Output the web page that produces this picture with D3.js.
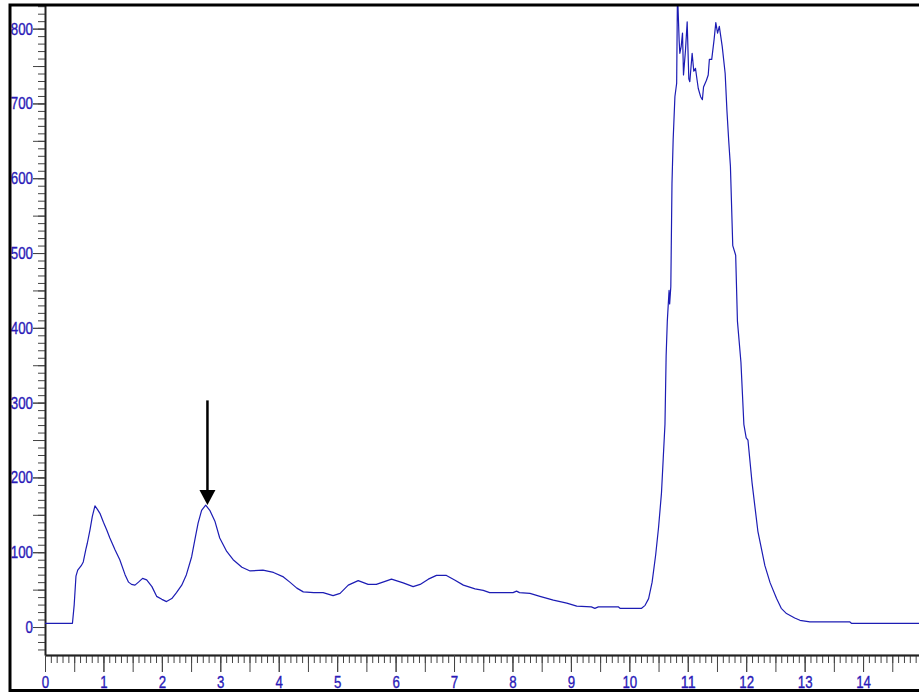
<!DOCTYPE html>
<html>
<head>
<meta charset="utf-8">
<script src="https://cdn.jsdelivr.net/npm/d3@7"></script>
<style>
  html, body { margin: 0; padding: 0; background: #fff; }
  svg { display: block; }
</style>
</head>
<body>
<div id="chart"></div>
<script>
// retention time (min)
const time = [
  0, 0.47, 0.50, 0.53, 0.56, 0.62, 0.655, 0.70, 0.724, 0.77, 0.81, 0.855, 0.90, 0.94, 1.00,
  1.055, 1.11, 1.20, 1.28, 1.37, 1.43, 1.48, 1.54, 1.60, 1.67, 1.74, 1.83, 1.91, 2.00, 2.08,
  2.17, 2.25, 2.34, 2.42, 2.51, 2.57, 2.62, 2.68, 2.75, 2.82, 2.91, 2.99, 3.11, 3.22, 3.37,
  3.51, 3.73, 3.91, 4.08, 4.19, 4.31, 4.42, 4.60, 4.76, 4.93, 5.05, 5.19, 5.36, 5.53, 5.67,
  5.82, 5.93, 6.13, 6.30, 6.42, 6.56, 6.70, 6.87, 7.01, 7.16, 7.36, 7.50, 7.61, 8.01, 8.07,
  8.12, 8.30, 8.47, 8.70, 8.93, 9.10, 9.35, 9.41, 9.47, 9.81, 9.84, 10.21, 10.27, 10.33, 10.39,
  10.45, 10.50, 10.55, 10.58, 10.61, 10.63, 10.65, 10.68, 10.69, 10.71, 10.73, 10.75, 10.78, 10.81, 10.824,
  10.852, 10.864, 10.887, 10.910, 10.927, 10.961, 10.990, 11.018, 11.035, 11.075, 11.103, 11.132, 11.16, 11.18, 11.22,
  11.25, 11.27, 11.32, 11.35, 11.37, 11.41, 11.45, 11.48, 11.51, 11.54, 11.59, 11.64, 11.67, 11.70, 11.73,
  11.77, 11.82, 11.85, 11.91, 11.96, 12.00, 12.03, 12.10, 12.20, 12.32, 12.41, 12.52, 12.60, 12.69, 12.83,
  12.92, 13.09, 13.77, 13.80, 15.06
];
// detector signal
const signal = [
  5, 5, 30, 68, 76, 82, 87, 104, 112, 130, 148, 162, 157, 152, 140,
  130, 119, 103, 90, 70, 60, 57, 56, 60, 65, 63, 54, 41, 37, 34,
  38, 46, 56, 70, 94, 119, 139, 156, 163, 156, 141, 119, 101, 90, 80,
  75, 76, 73, 67, 60, 52, 47, 46, 46, 42, 45, 56, 62, 57, 57,
  61, 64, 59, 54, 57, 64, 69, 69, 63, 56, 51, 49, 46, 46, 48,
  46, 45, 41, 36, 32, 28, 27, 25, 27, 27, 25, 25, 29, 38, 60,
  96, 133, 179, 225, 271, 363, 409, 450, 432, 455, 593, 651, 709, 727, 850,
  785, 767, 776, 794, 738, 771, 809, 733, 729, 767, 743, 747, 731, 720, 709,
  705, 722, 731, 738, 759, 759, 785, 808, 794, 803, 776, 740, 691, 651, 616,
  510, 497, 409, 354, 271, 253, 250, 193, 128, 82, 59, 38, 25, 18, 12,
  9, 7, 7, 5, 5
];
// arrow marking the peak of interest
const arrowTime = [2.78];
const arrowFrom = [303];
const arrowTo = [163];

const xMajor = d3.range(0, 15, 1);
const yMajor = d3.range(0, 900, 100);

const W = 919, H = 693;
const plot = {left: 45, top: 5, right: 925, bottom: 655};

const svg = d3.select("#chart").append("svg")
  .attr("width", W).attr("height", H);

const x = d3.scaleLinear().domain([0, 15.06]).range([plot.left, plot.right]);
const y = d3.scaleLinear().domain([-37.4, 831.6]).range([plot.bottom, plot.top]);

svg.append("defs").append("clipPath").attr("id", "clip")
  .append("rect")
  .attr("x", plot.left).attr("y", plot.top)
  .attr("width", plot.right - plot.left).attr("height", plot.bottom - plot.top);

// y ticks: minor every 10, medium every 50, labels every 100
const yTicks = (vals, size) => d3.axisLeft(y).tickValues(vals).tickSize(size).tickSizeOuter(0).tickFormat("");
const yg = svg.append("g").attr("transform", `translate(${plot.left},0)`);
yg.append("g").call(yTicks(d3.range(-30, 840, 10), 7));
yg.append("g").call(yTicks(d3.range(-50, 850, 50).filter(v => v >= -37), 12));
yg.append("g").attr("class", "lbl")
  .call(d3.axisLeft(y).tickValues(yMajor).tickSize(12).tickSizeOuter(0).tickPadding(0).tickFormat(d3.format("d")));

// x ticks: minor every 0.1, medium every 0.5, labels every 1
const xTicks = (vals, size) => d3.axisBottom(x).tickValues(vals).tickSize(size).tickSizeOuter(0).tickFormat("");
const xg = svg.append("g").attr("transform", `translate(0,${plot.bottom})`);
xg.append("g").call(xTicks(d3.range(0, 150).map(i => i / 10), 8));
xg.append("g").call(xTicks(d3.range(0, 30).map(i => i / 2), 17));
xg.append("g").attr("class", "lbl")
  .call(d3.axisBottom(x).tickValues(xMajor).tickSize(17).tickSizeOuter(0).tickPadding(4).tickFormat(d3.format("d")));

// narrow digits like the original
svg.selectAll(".lbl text")
  .style("font-family", "'Liberation Sans', Arial, sans-serif")
  .style("font-size", "17px")
  .style("fill", "#2a1ab8")
  .style("stroke", "#2a1ab8")
  .style("stroke-width", "0.35px")
  .attr("textLength", function() { return 7.4 * this.textContent.length; })
  .attr("lengthAdjust", "spacingAndGlyphs");

svg.selectAll(".tick line").attr("stroke", "#444").attr("stroke-width", 1);
svg.selectAll(".domain").attr("stroke", "#222").attr("stroke-width", 1.4);

// trace
const pts = time.map((t, i) => [t, signal[i]]);
svg.append("path")
  .datum(pts)
  .attr("clip-path", "url(#clip)")
  .attr("fill", "none")
  .attr("stroke", "#1c1cb4")
  .attr("stroke-width", 1.2)
  .attr("stroke-linejoin", "round")
  .attr("d", d3.line().x(d => x(d[0])).y(d => y(d[1])));

// arrow
const ax = x(arrowTime[0]), ay0 = y(arrowFrom[0]), ay1 = y(arrowTo[0]);
svg.append("line")
  .attr("x1", ax).attr("x2", ax).attr("y1", ay0).attr("y2", ay1 - 12)
  .attr("stroke", "#000").attr("stroke-width", 2.5);
svg.append("path")
  .attr("d", `M${ax - 8},${ay1 - 15}L${ax + 8},${ay1 - 15}L${ax},${ay1}Z`)
  .attr("fill", "#000");

// outer frame
svg.append("rect")
  .attr("x", 10).attr("y", 5)
  .attr("width", 940).attr("height", 685.5)
  .attr("fill", "none").attr("stroke", "#000").attr("stroke-width", 3);
</script>
</body>
</html>
